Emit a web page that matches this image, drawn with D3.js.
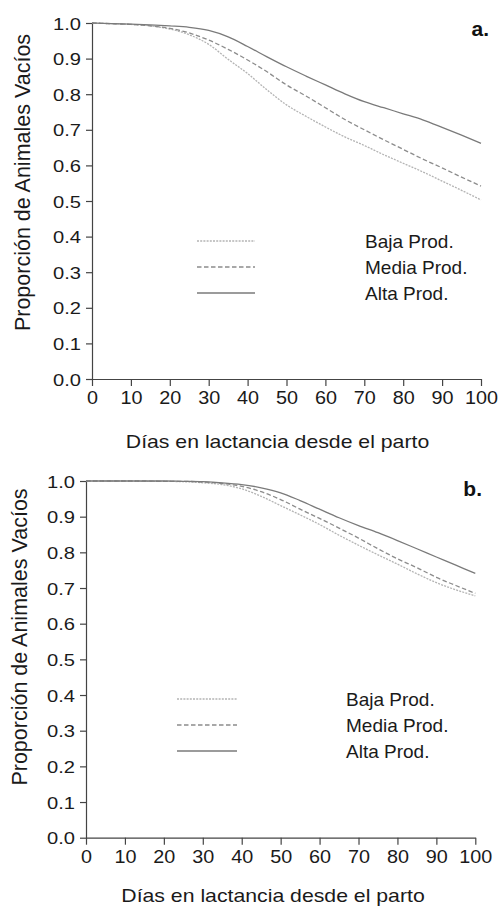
<!DOCTYPE html>
<html><head><meta charset="utf-8">
<script src="https://cdn.jsdelivr.net/npm/d3@7/dist/d3.min.js"></script>
<style>body{margin:0;background:#fff}</style>
</head><body><svg id="c" width="499" height="906"></svg>
<script>
// ---- data ----
const days = [0,5,10,15,20,25,30,35,40,45,50,55,60,65,70,75,80,85,90,95,100];
const bajaA  = [1.0,0.998,0.996,0.992,0.983,0.967,0.940,0.898,0.858,0.812,0.770,0.738,0.708,0.680,0.656,0.630,0.606,0.582,0.556,0.530,0.503];
const mediaA = [1.0,0.998,0.996,0.992,0.985,0.972,0.952,0.926,0.896,0.863,0.826,0.795,0.762,0.729,0.700,0.672,0.645,0.618,0.593,0.567,0.542];
const altaA  = [1.0,0.998,0.997,0.995,0.992,0.988,0.979,0.961,0.934,0.905,0.877,0.851,0.826,0.801,0.779,0.762,0.745,0.728,0.707,0.685,0.662];
const bajaB  = [1.0,1.0,1.0,0.999,0.999,0.998,0.995,0.990,0.978,0.957,0.931,0.905,0.878,0.848,0.820,0.793,0.767,0.740,0.715,0.695,0.678];
const mediaB = [1.0,1.0,1.0,1.0,0.999,0.999,0.997,0.993,0.985,0.970,0.948,0.921,0.895,0.868,0.840,0.810,0.782,0.757,0.730,0.707,0.685];
const altaB  = [1.0,1.0,1.0,1.0,1.0,0.999,0.998,0.995,0.990,0.981,0.967,0.945,0.921,0.897,0.875,0.855,0.833,0.810,0.787,0.764,0.741];
const seriesNames = ["Baja Prod.","Media Prod.","Alta Prod."];
const panelTags = ["a.","b."];
const xTicks = [0,10,20,30,40,50,60,70,80,90,100];
const yTicks = [0,0.1,0.2,0.3,0.4,0.5,0.6,0.7,0.8,0.9,1.0];
const xTitle = "Días en lactancia desde el parto";
const yTitle = "Proporción de Animales Vacíos";

// ---- styles & layout ----
const styles = [
  {stroke:"#b4b4b4", dash:"2,1.2", width:1.3},
  {stroke:"#8c8c8c", dash:"4.5,2.5", width:1.3},
  {stroke:"#7a7a7a", dash:null, width:1.3}
];
const FONT = "'Liberation Sans', Arial, Helvetica, sans-serif";
const layouts = [
  {x0:92, x1:481, yTop:23, yBot:379, leg:{x0:197,x1:255,ys:[241,267,293],tx:365},
   tag:{x:489,y:36}, xlab:{x:277.5,y:442}, ylab:{x:29.5,y:182.5}},
  {x0:86, x1:475.3, yTop:481, yBot:837.7, leg:{x0:177,x1:237,ys:[699,725,751],tx:346},
   tag:{x:482,y:496}, xlab:{x:273,y:896}, ylab:{x:27,y:637}}
];
const panelData = [[bajaA, mediaA, altaA],[bajaB, mediaB, altaB]];

const svg = d3.select("#c");

layouts.forEach((L, pi) => {
  const x = d3.scaleLinear().domain([0,100]).range([L.x0, L.x1]);
  const y = d3.scaleLinear().domain([0,1]).range([L.yBot, L.yTop]);
  const g = svg.append("g");

  // axes
  const ya = g.append("g").attr("transform", `translate(${L.x0},0)`)
    .call(d3.axisLeft(y).tickValues(yTicks).tickFormat(d3.format(".1f")).tickSize(6).tickSizeOuter(0));
  ya.selectAll("text")
    .attr("x", -11/1.2).attr("dy","0.36em")
    .attr("transform","scale(1.2,1)")
    .style("font-family",FONT).style("font-size","16.8px").style("fill","#1a1a1a");
  const xa = g.append("g").attr("transform", `translate(0,${L.yBot})`)
    .call(d3.axisBottom(x).tickValues(xTicks).tickSize(7).tickSizeOuter(0));
  xa.selectAll(".tick text")
    .attr("x", 0).attr("y", 19).attr("dy","0.36em")
    .attr("transform","scale(1.1,1)")
    .style("font-family",FONT).style("font-size","18px").style("fill","#1a1a1a");
  [ya, xa].forEach(a => {
    a.select(".domain").attr("stroke","#444").attr("stroke-width",1.2);
    a.selectAll(".tick line").attr("stroke","#444").attr("stroke-width",1.2);
  });

  // curves
  const line = d3.line().x((d,i)=>x(days[i])).y(d=>y(d)).curve(d3.curveMonotoneX);
  panelData[pi].forEach((vals, si) => {
    const s = styles[si];
    g.append("path").datum(vals).attr("d", line)
      .attr("fill","none").attr("stroke", s.stroke).attr("stroke-width", s.width)
      .attr("stroke-dasharray", s.dash);
  });

  // legend
  seriesNames.forEach((name, si) => {
    const s = styles[si];
    g.append("line").attr("x1",L.leg.x0).attr("x2",L.leg.x1)
      .attr("y1",L.leg.ys[si]).attr("y2",L.leg.ys[si])
      .attr("stroke",s.stroke).attr("stroke-width",s.width).attr("stroke-dasharray",s.dash);
    g.append("text").attr("x",L.leg.tx).attr("y",L.leg.ys[si]).attr("dy","0.36em")
      .style("font-family",FONT).style("font-size","19px").style("fill","#1a1a1a")
      .text(name);
  });

  // panel tag
  g.append("text").attr("x",L.tag.x).attr("y",L.tag.y).attr("text-anchor","end")
    .style("font-family",FONT).style("font-size","21px").style("font-weight","bold").style("fill","#111")
    .text(panelTags[pi]);

  // axis titles
  g.append("text").attr("transform",`translate(${L.xlab.x},${L.xlab.y}) scale(1.2,1)`)
    .attr("text-anchor","middle").attr("dy","0.36em")
    .style("font-family",FONT).style("font-size","17.7px").style("fill","#1a1a1a")
    .text(xTitle);
  g.append("text").attr("transform",`translate(${L.ylab.x},${L.ylab.y}) rotate(-90)`)
    .attr("text-anchor","middle")
    .style("font-family",FONT).style("font-size","21.5px").style("fill","#1a1a1a")
    .text(yTitle);
});
</script></body></html>
